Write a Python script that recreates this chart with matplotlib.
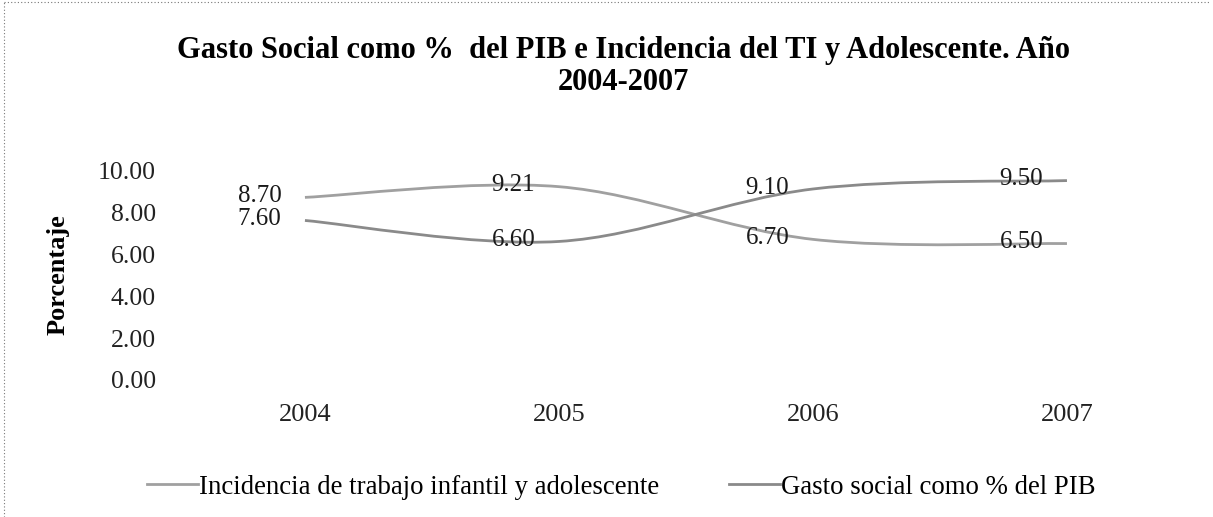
import matplotlib
matplotlib.use('Agg')
import matplotlib.pyplot as plt
from matplotlib.path import Path
from matplotlib.patches import PathPatch
from matplotlib.lines import Line2D

plt.rcParams['font.family'] = ['Liberation Serif', 'DejaVu Serif']

# data
years = ['2004', '2005', '2006', '2007']
incidencia = [8.70, 9.21, 6.70, 6.50]
gasto = [7.60, 6.60, 9.10, 9.50]
series_names = ['Incidencia de trabajo infantil y adolescente',
                'Gasto social como % del PIB']
y_ticks = [0, 2, 4, 6, 8, 10]

title = 'Gasto Social como %  del PIB e Incidencia del TI y Adolescente. Año\n2004-2007'
colors = ['#a0a0a0', '#8a8a8a']


def smooth_path(xs, ys):
    '''Bezier path through the points, like the smoothed lines of Excel.'''
    pts = list(zip(xs, ys))
    verts = [pts[0]]
    codes = [Path.MOVETO]
    n = len(pts)
    for i in range(n - 1):
        p0 = pts[i - 1] if i > 0 else pts[i]
        p1 = pts[i]
        p2 = pts[i + 1]
        p3 = pts[i + 2] if i + 2 < n else pts[i + 1]
        c1 = (p1[0] + (p2[0] - p0[0]) / 6, p1[1] + (p2[1] - p0[1]) / 6)
        c2 = (p2[0] - (p3[0] - p1[0]) / 6, p2[1] - (p3[1] - p1[1]) / 6)
        verts += [c1, c2, p2]
        codes += [Path.CURVE4] * 3
    return Path(verts, codes)


fig = plt.figure(figsize=(12.13, 5.17), dpi=100)
ax = fig.add_axes([0.1467, 0.265, 0.8376, 0.406])

x = list(range(len(years)))
for vals, color in zip([incidencia, gasto], colors):
    patch = PathPatch(smooth_path(x, vals), facecolor='none', edgecolor=color,
                      lw=2.0, transform=ax.transData)
    ax.add_patch(patch)
    for xi, v in zip(x, vals):
        ax.annotate(f'{v:.2f}', (xi, v), xytext=(-17, 1), textcoords='offset points',
                    ha='right', va='center', fontsize=18, color='#1a1a1a')

ax.set_xlim(-0.5, len(years) - 0.5)
ax.set_ylim(0, 10)
ax.set_xticks(x)
ax.set_xticklabels(years, fontsize=19, color='#222222')
ax.set_yticks(y_ticks)
ax.set_yticklabels([f'{t:.2f}' for t in y_ticks], fontsize=18.5, color='#222222')
ax.tick_params(length=0)
ax.tick_params(axis='y', pad=16)
ax.tick_params(axis='x', pad=17)
for s in ax.spines.values():
    s.set_visible(False)

ax.set_ylabel('Porcentaje', fontsize=19, fontweight='bold', labelpad=20)

fig.text(0.514, 0.93, title, ha='center', va='top', fontsize=22,
         fontweight='bold', linespacing=1.15)

handles = [Line2D([], [], color=c, lw=2.0) for c in colors]
fig.legend(handles, series_names, loc='center', bbox_to_anchor=(0.512, 0.058),
           ncol=2, frameon=False, fontsize=19.3, handlelength=1.9,
           handletextpad=0.05, columnspacing=2.6)

# dotted border of the chart area (top and left edges show in the scan)
fig.add_artist(Line2D([0.003, 0.997], [0.996, 0.996], transform=fig.transFigure,
                      ls=(0, (1, 2)), lw=0.8, color='#777777'))
fig.add_artist(Line2D([0.003, 0.003], [0.0, 0.996], transform=fig.transFigure,
                      ls=(0, (1, 2)), lw=0.8, color='#777777'))

fig.savefig('out.png', dpi=100)
